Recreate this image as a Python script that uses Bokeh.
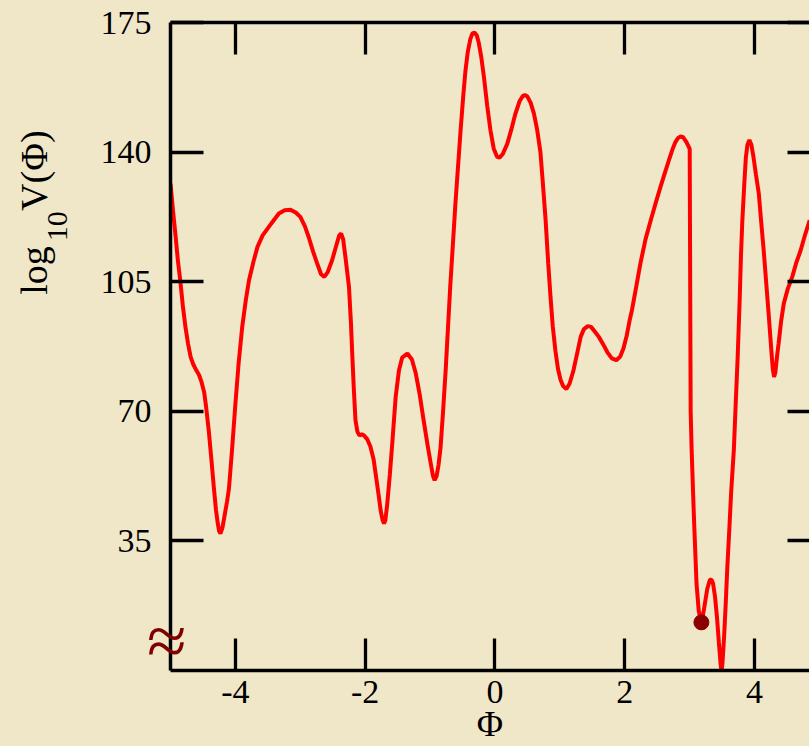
from bokeh.plotting import figure
from bokeh.models import FixedTicker, LinearAxis, Range1d
from bokeh.embed import file_html
from bokeh.resources import INLINE

# ---- data ----
phi = [-5.00, -4.96, -4.92, -4.885, -4.85, -4.81, -4.77, -4.73, -4.69, -4.65, -4.60, -4.56,
       -4.52, -4.48, -4.45, -4.41, -4.37, -4.33, -4.30, -4.27, -4.25, -4.23, -4.20, -4.17,
       -4.13, -4.10, -4.05, -4.00, -3.95, -3.895, -3.84, -3.79, -3.72, -3.66, -3.58, -3.485,
       -3.40, -3.33, -3.24, -3.15, -3.07, -3.00, -2.93, -2.87, -2.80, -2.74, -2.68, -2.63,
       -2.58, -2.51, -2.45, -2.40, -2.37, -2.34, -2.30, -2.28, -2.25, -2.22, -2.20, -2.175,
       -2.15, -2.12, -2.09, -2.05, -2.02, -1.97, -1.92, -1.87, -1.83, -1.79, -1.76, -1.73,
       -1.71, -1.69, -1.66, -1.62, -1.58, -1.53, -1.48, -1.43, -1.35, -1.28, -1.22, -1.16,
       -1.10, -1.04, -0.99, -0.955, -0.93, -0.90, -0.87, -0.84, -0.80, -0.76, -0.69, -0.61,
       -0.53, -0.49, -0.455, -0.42, -0.38, -0.35, -0.316, -0.28, -0.25, -0.21, -0.17, -0.12,
       -0.07, -0.02, 0.03, 0.07, 0.12, 0.19, 0.25, 0.315, 0.38, 0.43, 0.46, 0.50,
       0.55, 0.60, 0.65, 0.70, 0.74, 0.78, 0.82, 0.855, 0.89, 0.93, 0.97, 1.01,
       1.05, 1.10, 1.15, 1.21, 1.27, 1.32, 1.37, 1.43, 1.48, 1.54, 1.60, 1.67,
       1.73, 1.80, 1.87, 1.93, 1.98, 2.03, 2.08, 2.11, 2.18, 2.24, 2.32, 2.40,
       2.48, 2.55, 2.62, 2.68, 2.74, 2.78, 2.82, 2.86, 2.90, 2.95, 3.00, 3.015,
       3.03, 3.065, 3.105, 3.14, 3.18, 3.22, 3.27, 3.31, 3.335, 3.36, 3.39, 3.42,
       3.45, 3.475, 3.49, 3.505, 3.53, 3.555, 3.58, 3.61, 3.64, 3.68, 3.705, 3.74,
       3.77, 3.79, 3.81, 3.84, 3.865, 3.89, 3.92, 3.95, 3.98, 4.02, 4.065, 4.10,
       4.14, 4.18, 4.22, 4.26, 4.28, 4.30, 4.32, 4.35, 4.37, 4.41, 4.45, 4.51,
       4.58, 4.64, 4.71, 4.78, 4.85]
log10_v = [131.5, 124, 117, 110.5, 105.4, 98.5, 92.8, 88.3, 84.7, 82.7, 81, 79.8,
           77.8, 75, 71, 64.7, 57, 49, 43.5, 39.5, 37.6, 37, 38.5, 41.5,
           45.5, 49, 60, 72, 83, 92.8, 100, 105.4, 110.5, 114.4, 117.5, 119.8,
           121.8, 123.4, 124.3, 124.4, 123.7, 122.5, 120, 117, 113, 109.9, 107, 106.3,
           107.5, 110.8, 114.5, 117.5, 118, 116.5, 111, 108, 103.6, 94, 85.6, 76,
           67.6, 64.5, 63.5, 63.8, 63.5, 62.5, 60.5, 57, 52, 47, 43, 40.5,
           39.7, 40.5, 45, 53, 62, 74, 81, 84.5, 85.6, 84, 80.2, 74.5,
           67.6, 61, 55.9, 52.5, 51.4, 52.5, 55.5, 60, 70, 81.1, 103.6, 126,
           145.9, 155, 162, 167, 170.5, 172, 172.3, 171.5, 169.5, 165.5, 160.2, 152.5,
           145.9, 141, 138.8, 138.5, 139.5, 142.3, 146, 150.4, 153.8, 155.2, 155.4, 155,
           153.3, 150.4, 146, 140, 131, 121.6, 110, 101, 93, 86.5, 81.5, 78.5,
           76.8, 76, 77.5, 81.1, 86, 90.1, 92.2, 93, 92.8, 91.5, 90.1, 88,
           86, 84.3, 83.8, 84.8, 87, 90.5, 95, 97.3, 104, 109.9, 116.5, 121.6,
           126.5, 130.6, 134.5, 137.8, 141, 142.7, 143.8, 144.2, 144, 142.7, 140.9, 70,
           59.5, 41.5, 23.5, 16, 13, 16.5, 22, 24.4, 24.6, 23.5, 20, 14.5,
           7.5, 2, -0.5, 2, 9.1, 18, 28, 38, 48.5, 59.5, 70.3, 85,
           100, 112, 121, 131, 138.5, 142, 143.3, 142, 139, 134, 128.8, 121.5,
           113.5, 104.5, 95.5, 86, 81.5, 79.3, 80.5, 85.5, 88.3, 94.5, 99.1, 103,
           106.3, 110, 113.5, 117.8, 121.6]

min_phi = [3.18]
min_v = [13.0]

x_ticks = [-4, -2, 0, 2, 4]
x_tick_labels = ["-4", "-2", "0", "2", "4"]
y_ticks = [35, 70, 105, 140, 175]

x_title = "\u03a6"
y_title_parts = ["log", "10", "V(\u03a6)"]
break_mark = "\u2248"

BG = "#F0E7C9"
FONT = "Liberation Serif"

W, H = 809, 746
p = figure(width=W, height=H, output_backend="svg", toolbar_location=None,
           x_range=Range1d(-5, 4.846), y_range=Range1d(0, 175),
           x_axis_location=None, y_axis_location=None,
           min_border_left=170, min_border_right=0, min_border_top=22, min_border_bottom=76)
p.background_fill_color = BG
p.border_fill_color = BG
p.outline_line_color = None
p.xgrid.visible = False
p.ygrid.visible = False


def style_axis(ax, tick_len):
    ax.axis_line_width = 3.5
    ax.axis_line_color = "black"
    ax.major_tick_line_width = 3.3
    ax.major_tick_line_color = "black"
    ax.major_tick_in = tick_len
    ax.major_tick_out = 0
    ax.minor_tick_line_color = None
    ax.major_label_text_font = FONT
    ax.major_label_text_font_size = "34px"
    ax.major_label_text_color = "black"


bottom = LinearAxis(ticker=FixedTicker(ticks=x_ticks),
                    major_label_overrides={t: s for t, s in zip(x_ticks, x_tick_labels)})
style_axis(bottom, 32)
bottom.major_label_standoff = 10
bottom.axis_label = x_title
bottom.axis_label_text_font = FONT
bottom.axis_label_text_font_style = "normal"
bottom.axis_label_text_font_size = "36px"
bottom.axis_label_text_color = "black"
bottom.axis_label_standoff = -2
p.add_layout(bottom, "below")

top = LinearAxis(ticker=FixedTicker(ticks=x_ticks),
                 major_label_overrides={t: "" for t in x_ticks})
style_axis(top, 32)
top.major_label_standoff = 0
p.add_layout(top, "above")

left = LinearAxis(ticker=FixedTicker(ticks=y_ticks))
style_axis(left, 33)
left.major_label_standoff = 19
p.add_layout(left, "left")

right = LinearAxis(ticker=FixedTicker(ticks=y_ticks),
                   major_label_overrides={t: "" for t in y_ticks})
style_axis(right, 22)
right.major_label_standoff = 0
right.axis_line_color = None
p.add_layout(right, "right")


def text_axis(side, ticks, labels, size, color, standoff, orient=None):
    """An axis that only carries texts (stacked in the side panel)."""
    ax = LinearAxis(ticker=FixedTicker(ticks=ticks),
                    major_label_overrides={t: s for t, s in zip(ticks, labels)})
    ax.axis_line_color = None
    ax.major_tick_line_color = None
    ax.minor_tick_line_color = None
    ax.major_tick_in = 0
    ax.major_tick_out = 0
    ax.major_label_standoff = standoff
    ax.major_label_text_font = FONT
    ax.major_label_text_font_size = size
    ax.major_label_text_color = color
    if orient is not None:
        ax.major_label_orientation = orient
    p.add_layout(ax, side)
    return ax


# y title "log_10 V(Phi)" as rotated texts, stacked left of the main axis
text_axis("left", [120], [y_title_parts[1]], "30px", "black", 30, "vertical")
text_axis("left", [108, 135], [y_title_parts[0], y_title_parts[2]], "38px", "black", -10,
          "vertical")
# axis-break mark, pulled back over the left axis line
text_axis("left", [8], [break_mark], "72px", "#800000", -176)

p.line(phi, log10_v, line_color="#FF0000", line_width=4)
p.scatter(min_phi, min_v, size=15, fill_color="#8B0000", line_color="#8B0000")

html = file_html(p, INLINE)
html = html.replace("<head>", "<head><style>html,body{background:%s;}</style>" % BG, 1)
open("out.html", "w").write(html)
